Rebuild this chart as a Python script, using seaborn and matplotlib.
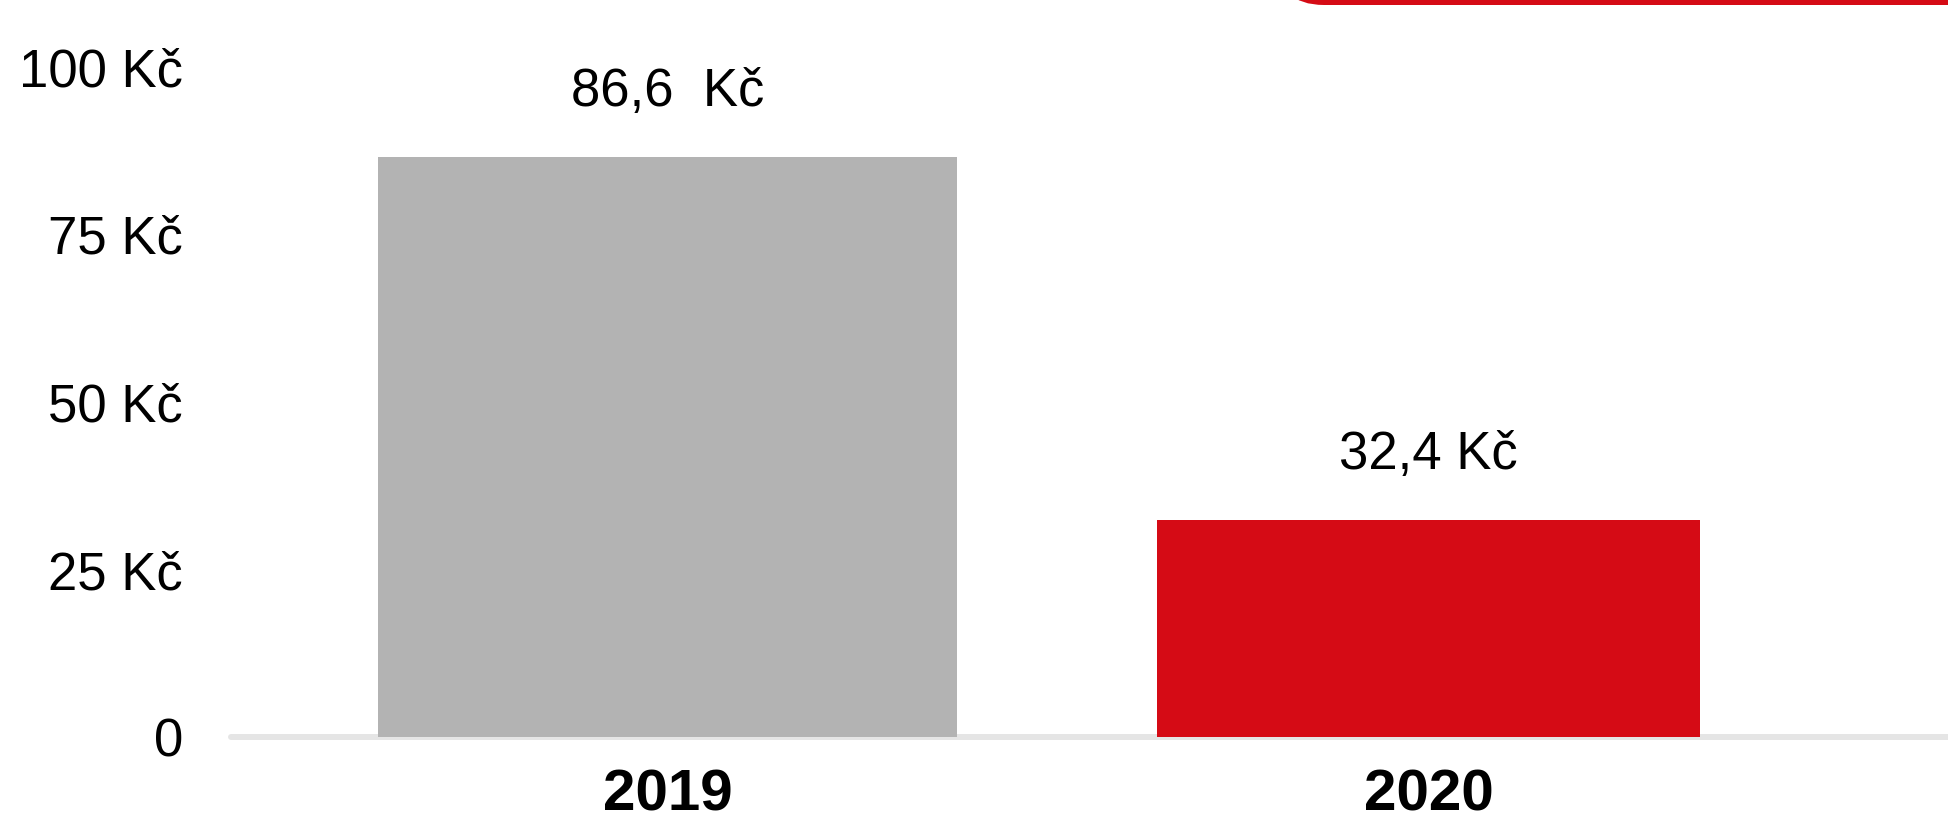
import numpy as np
import pandas as pd
import matplotlib
matplotlib.use("Agg")
import matplotlib.pyplot as plt
from matplotlib.patches import FancyBboxPatch
from matplotlib.ticker import FixedLocator, FuncFormatter
import seaborn as sns

# ── data ──
YEARS        = ["2019", "2020"]
VALUES       = [86.6, 32.4]
VALUE_LABELS = ["86,6  Kč", "32,4 Kč"]
Y_TICKS      = [0, 25, 50, 75, 100]

# ── style ──
BAR_COLORS = ["#B3B3B3", "#D50B15"]
BAR_WIDTHS = [0.76, 0.714]
LINE_GRAY  = "#E5E5E5"
RED        = "#D50B15"
W, H, DPI  = 1948, 816, 100
AX_LEFT    = 231

sns.set_theme(style="white")
plt.rcParams["font.family"] = ["Liberation Sans", "DejaVu Sans"]

df = pd.DataFrame({"year": YEARS, "value": VALUES})

fig = plt.figure(figsize=(W / DPI, H / DPI), dpi=DPI)
ax = fig.add_axes([AX_LEFT / W, 79 / H, 1 - AX_LEFT / W, 670 / H])

sns.barplot(data=df, x="year", y="value", hue="year",
            palette=BAR_COLORS, legend=False, ax=ax,
            saturation=1, width=0.75, zorder=2)

# per-bar widths, kept centred on the category
for patch, w in zip(ax.patches, BAR_WIDTHS):
    cx = patch.get_x() + patch.get_width() / 2
    patch.set_width(w)
    patch.set_x(cx - w / 2)
    patch.set_linewidth(0)

# value labels above the bars
for i, (v, lab) in enumerate(zip(VALUES, VALUE_LABELS)):
    ax.annotate(lab, xy=(i, v), xytext=(0, 47), textcoords="offset points",
                ha="center", va="center", fontsize=38, color="black")

# baseline
ax.axhline(0, color=LINE_GRAY, linewidth=4.3, zorder=1, clip_on=False)

# category spacing of ~761 px, first bar centred at x=667
ax.set_xlim(-(667.5 - AX_LEFT) / 761, 1 + (W - 1428.5) / 761)
ax.set_ylim(0, 100)
ax.yaxis.set_major_locator(FixedLocator(Y_TICKS))
ax.yaxis.set_major_formatter(FuncFormatter(
    lambda v, p: "0" if v == 0 else f"{int(v)} Kč"))
ax.tick_params(axis="y", length=0, pad=34.5, labelsize=38, colors="black")
ax.tick_params(axis="x", length=0, pad=23, labelsize=42, colors="black")
for lbl in ax.get_xticklabels():
    lbl.set_fontweight("bold")

ax.set_xlabel("")
ax.set_ylabel("")
sns.despine(ax=ax, left=True, bottom=True)
ax.grid(False)

# red rounded tab at the top right edge
tab = FancyBboxPatch((1277, H - 5), 900, 120,
                     boxstyle="round,pad=0,rounding_size=47",
                     transform=None, facecolor=RED, edgecolor="none")
fig.add_artist(tab)

fig.savefig("out.png", dpi=DPI)
